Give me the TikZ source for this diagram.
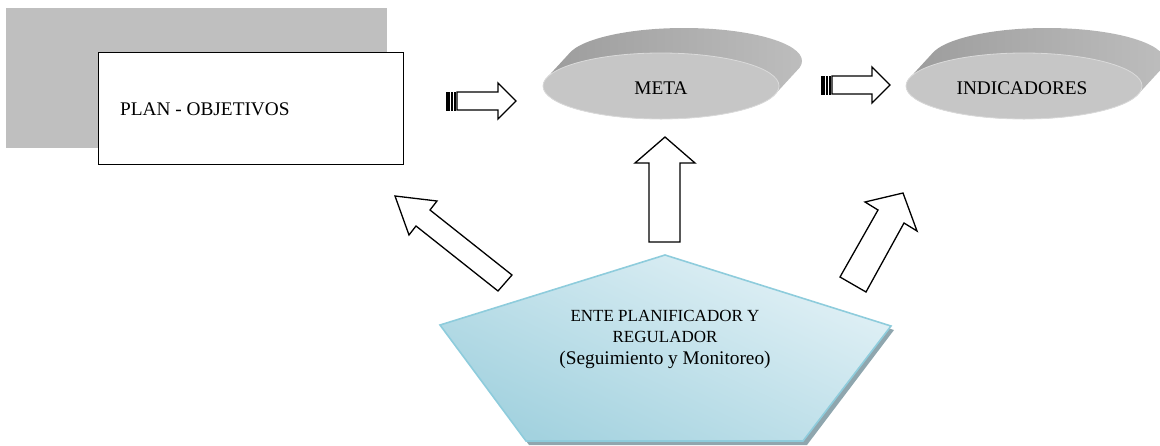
\documentclass[tikz,border=0pt]{standalone}
\usepackage{fontspec}
\setmainfont{Liberation Serif}
\usetikzlibrary{shapes.geometric}
\definecolor{shadegray}{HTML}{BFBFBF}
\definecolor{ellfront}{HTML}{C6C6C6}
\definecolor{ellbackL}{HTML}{9C9C9C}
\definecolor{ellbackR}{HTML}{BDBDBD}
\definecolor{ellrim}{HTML}{DADADA}
\definecolor{pentdark}{HTML}{A3D2DF}
\definecolor{pentlight}{HTML}{E2F1F6}
\definecolor{pentedge}{HTML}{8ECCDC}
\definecolor{pentshadow}{HTML}{8FA6AE}
\tikzset{
  lbl/.style={font=\fontsize{19.3}{21.5}\selectfont, inner sep=0pt, text=black},
  blockarrow/.style={draw=black, line width=1.3pt, fill=white, line join=miter},
  stripe/.style={fill=black},
  frontell/.style={ellipse, fill=ellfront, draw=ellrim, line width=0.8pt, minimum width=236pt, minimum height=66pt, inner sep=0pt},
}
\begin{document}
\begin{tikzpicture}[x=1pt,y=-1pt]
\useasboundingbox (0,0) rectangle (1160,445);

% PLAN - OBJETIVOS
\fill[shadegray] (6,8) rectangle (387,148);
\node[draw=black, line width=1.3pt, fill=white, minimum width=305pt, minimum height=112pt, anchor=north west, inner sep=0pt] (plan) at (98,52) {};
\node[lbl, anchor=west] (plantext) at (120,109) {PLAN - OBJETIVOS};

% META disk
\path[left color=ellbackL, right color=ellbackR]
  \foreach \i in {0,...,24} { ({661+\i*23/24},{86-\i*25/24}) ellipse [x radius=118pt, y radius=33pt] };
\node[frontell] (meta) at (661,86) {};
\node[lbl] (metatext) at (661,88) {META};

% INDICADORES disk
\path[left color=ellbackL, right color=ellbackR]
  \foreach \i in {0,...,24} { ({1024+\i*23/24},{86-\i*25/24}) ellipse [x radius=118pt, y radius=33pt] };
\node[frontell] (ind) at (1024,86) {};
\node[lbl] (indtext) at (1022,88) {INDICADORES};

% striped arrow 1
\fill[stripe] (446,92) rectangle (449.5,110.5);
\fill[stripe] (451,92) rectangle (452.7,110.5);
\fill[stripe] (454.2,92) rectangle (456,110.5);
\draw[blockarrow] (457,92) -- (498,92) -- (498,83) -- (516,101) -- (498,119) -- (498,110) -- (457,110) -- cycle;

% striped arrow 2
\fill[stripe] (821,76) rectangle (824.5,94.5);
\fill[stripe] (826,76) rectangle (827.7,94.5);
\fill[stripe] (829.2,76) rectangle (831,94.5);
\draw[blockarrow] (832,76) -- (872,76) -- (872,67) -- (890,85) -- (872,103) -- (872,94) -- (832,94) -- cycle;

% Pentagon ENTE
\fill[pentshadow] (669,258) -- (894,330) -- (807,445) -- (529,445) -- (444,328) -- cycle;
\path[draw=pentedge, line width=1.6pt, shading=axis, top color=pentlight, bottom color=pentdark, shading angle=-25]
  (665,255) coordinate (pt) -- (891,326) coordinate (pr) -- (803,441) coordinate (pbr) -- (526,441) coordinate (pbl) -- (440,325) coordinate (pl) -- cycle;
\node[lbl, align=center] (ente) at (665,339) {\fontsize{17}{21.5}\selectfont ENTE PLANIFICADOR Y\\\fontsize{17}{21.5}\selectfont REGULADOR\\\fontsize{19.3}{21}\selectfont (Seguimiento y Monitoreo)};

% up arrow
\draw[blockarrow] (649,242) -- (649,163) -- (635,163) -- (665,137) -- (695,163) -- (680,163) -- (680,242) -- cycle;

% left diagonal arrow
\draw[blockarrow] (395,196) -- (437,201) -- (430,210) -- (512,275) -- (498,291) -- (416,226) -- (409,235) -- cycle;

% right diagonal arrow
\draw[blockarrow] (903,193) -- (917,231) -- (904,223) -- (866,292) -- (840,277) -- (878,210) -- (865,202) -- cycle;
\end{tikzpicture}
\end{document}
